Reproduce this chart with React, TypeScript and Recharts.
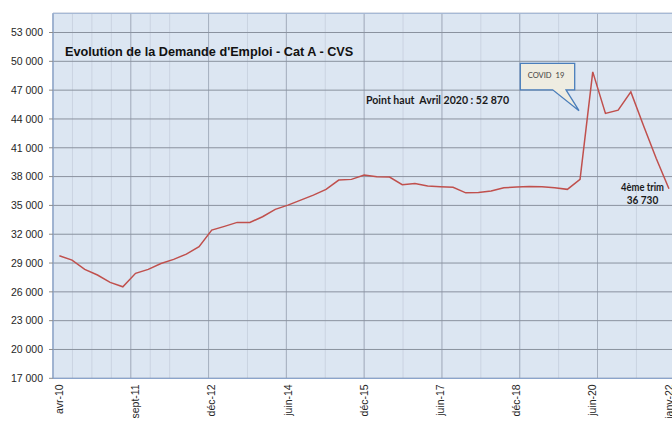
import { LineChart, Line, XAxis, YAxis, CartesianGrid, ReferenceLine } from 'recharts'

// demandeurs d'emploi cat A (CVS), one point per period
const values = [
  29760, 29310, 28340, 27750, 26990, 26530, 27930, 28340, 28950, 29380,
  29930, 30700, 32430, 32820, 33230, 33230, 33820, 34590, 35030, 35550,
  36070, 36670, 37640, 37710, 38160, 37980, 37950, 37150, 37290, 37010,
  36940, 36880, 36310, 36340, 36490, 36830, 36910, 36980, 36940, 36830,
  36670, 37710, 48900, 44580, 44920, 46820, 43300, 39890, 36730,
]

const tickLabels = ['avr-10', 'sept-11', 'déc-12', 'juin-14', 'déc-15', 'juin-17', 'déc-18', 'juin-20', 'janv-22']
const labelStep = 6
const yTicks = [17000, 20000, 23000, 26000, 29000, 32000, 35000, 38000, 41000, 44000, 47000, 50000, 53000]

const n = values.length
const data = values.map((v, i) => ({ x: i + 0.5, v }))
const labelTicks = tickLabels.map((_, k) => k * labelStep + 0.5)
const minorTicks = Array.from({ length: Math.floor(n / 1.5) + 1 }, (_, k) => k * 1.5)
const markTicks = Array.from({ length: Math.floor(n / 3) + 1 }, (_, k) => k * 3)
const majorTicks = Array.from({ length: Math.floor(n / 6) + 1 }, (_, k) => k * 6)

const fmt = (v: number) => String(v).replace(/\B(?=(\d{3})+(?!\d))/g, ' ')

const XTick = (props: any) => {
  const { x, y, payload } = props
  const idx = Math.round((payload.value - 0.5) / labelStep)
  return (
    <g transform={`translate(${x},${y + 6})`}>
      <text transform="rotate(-90)" textAnchor="end" dy="0.35em" fontSize={10.5} fill="#262626"
        fontFamily="'Liberation Sans', Arial, sans-serif">
        {tickLabels[idx]}
      </text>
    </g>
  )
}

export default function App() {
  return (
    <div style={{ position: 'absolute', left: 0, top: 0, width: 672, height: 421, overflow: 'hidden', background: '#fff' }}>
      <LineChart width={690} height={421} data={data} margin={{ top: 13.3, right: 14.7, bottom: 0, left: 0 }}>
        <CartesianGrid xAxisId="minor" horizontal={false} stroke="#cad3e1" fill="#dce6f2" />
        <CartesianGrid xAxisId="marks" horizontal={false} stroke="#bac4d3" />
        <CartesianGrid xAxisId="major" horizontal={false} stroke="#a6b0bf" />
        <CartesianGrid xAxisId="minor" vertical={false} stroke="#8a929f" />
        <XAxis xAxisId="minor" type="number" domain={[0, n]} ticks={minorTicks} allowDataOverflow hide />
        <XAxis xAxisId="major" type="number" domain={[0, n]} ticks={majorTicks} allowDataOverflow hide />
        <XAxis xAxisId="marks" type="number" domain={[0, n]} ticks={markTicks} allowDataOverflow height={0}
          tick={false} axisLine={false} tickSize={4} tickLine={{ stroke: '#8c8c8c' }} />
        <XAxis xAxisId="main" type="number" dataKey="x" domain={[0, n]} ticks={labelTicks} allowDataOverflow
          height={42.7} interval={0} tickLine={false} tickSize={0} tickMargin={0}
          axisLine={{ stroke: '#86a4d2' }} tick={<XTick />} />
        <YAxis type="number" domain={[17000, 55000]} ticks={yTicks} allowDataOverflow width={53}
          tickSize={4} tickMargin={6} tickFormatter={fmt} interval={0}
          axisLine={{ stroke: '#86a4d2' }} tickLine={{ stroke: '#8c8c8c' }}
          tick={{ fontSize: 10.5, fill: '#262626', fontFamily: "'Liberation Sans', Arial, sans-serif" }} />
        <ReferenceLine xAxisId="main" y={55000} stroke="#a9bfdf" />
        <Line xAxisId="main" type="linear" dataKey="v" stroke="#c0504d" strokeWidth={1.5} dot={false}
          isAnimationActive={false} />
      </LineChart>
      <svg width={672} height={421} style={{ position: 'absolute', left: 0, top: 0, pointerEvents: 'none' }}>
        <text x={65} y={56} fontSize={12.7} fontWeight="bold" fill="#111"
          fontFamily="'Liberation Sans', Arial, sans-serif">
          Evolution de la Demande d'Emploi - Cat A - CVS
        </text>
        <text x={366} y={104} fontSize={11} fontWeight="bold" fill="#1a1a1a" fontFamily="Lato, sans-serif"
          textLength={143} lengthAdjust="spacingAndGlyphs">
          {'Point haut\u00a0 Avril 2020 : 52 870'}
        </text>
        <path d="M520.3,63.3 H574.7 V89.8 H566 L579,110.7 L552.7,89.8 H520.3 Z"
          fill="#eeece1" stroke="#4a7ebb" strokeWidth={1.3} />
        <text x={527.7} y={78.3} fontSize={8} fill="#404040" fontFamily="Lato, sans-serif"
          textLength={36.6} lengthAdjust="spacingAndGlyphs">
          {'COVID\u00a0 19'}
        </text>
        <text x={621} y={190.5} fontSize={11} fontWeight="bold" fill="#1a1a1a" fontFamily="Lato, sans-serif"
          textLength={43} lengthAdjust="spacingAndGlyphs">
          4ème trim
        </text>
        <text x={626.7} y={204.3} fontSize={11} fontWeight="bold" fill="#1a1a1a" fontFamily="Lato, sans-serif"
          textLength={31.6} lengthAdjust="spacingAndGlyphs">
          36 730
        </text>
      </svg>
    </div>
  )
}
